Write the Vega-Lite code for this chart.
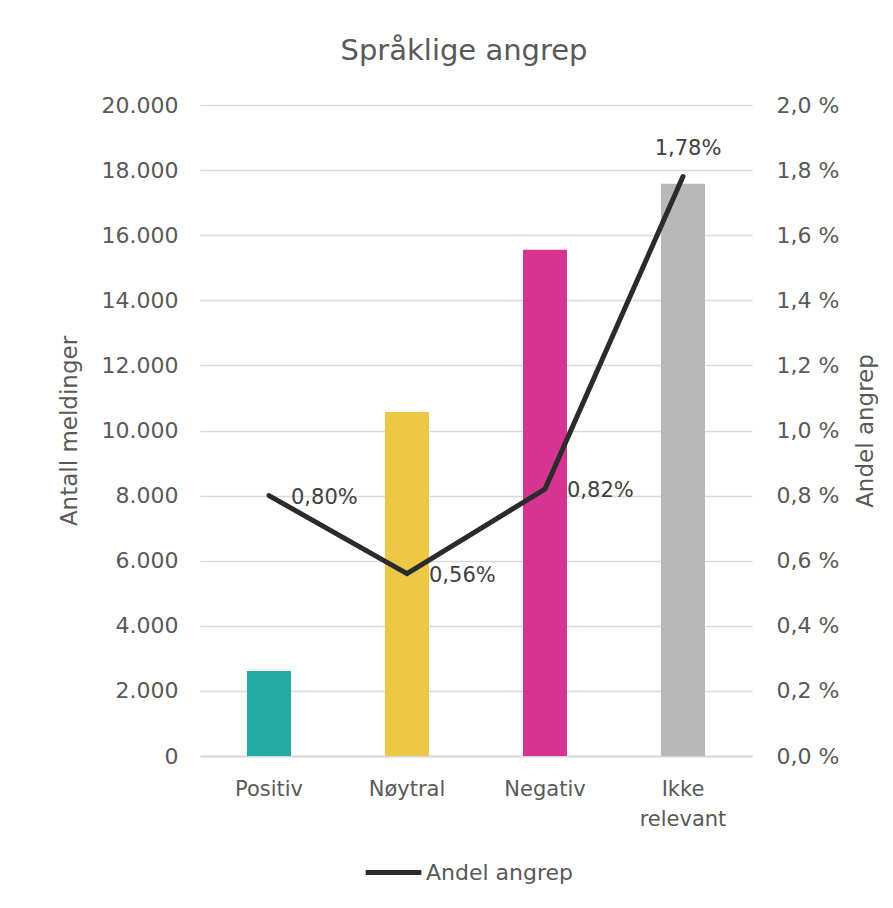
{
  "$schema": "https://vega.github.io/schema/vega-lite/v6.json",
  "autosize": {"type": "none"},
  "width": 552,
  "height": 651,
  "padding": {"left": 200, "top": 105, "right": 141, "bottom": 152},
  "background": "#ffffff",
  "title": {
    "text": "Språklige angrep",
    "fontSize": 29,
    "font": "DejaVu Sans",
    "fontWeight": "normal",
    "color": "#595959",
    "anchor": "middle",
    "dx": -12,
    "offset": 28
  },
  "data": {
    "values": [
      {"kategori": "Positiv", "antall": 2610, "andel": 0.80, "etikett": "0,80%"},
      {"kategori": "Nøytral", "antall": 10570, "andel": 0.56, "etikett": "0,56%"},
      {"kategori": "Negativ", "antall": 15550, "andel": 0.82, "etikett": "0,82%"},
      {"kategori": "Ikke relevant", "antall": 17580, "andel": 1.78, "etikett": "1,78%"}
    ]
  },
  "encoding": {
    "x": {
      "field": "kategori",
      "type": "nominal",
      "sort": null,
      "scale": {"paddingInner": 0.68, "paddingOuter": 0.34},
      "axis": {
        "title": null,
        "labelAngle": 0,
        "labelExpr": "split(datum.label, ' ')",
        "labelFontSize": 21,
        "labelLineHeight": 30,
        "labelPadding": 22,
        "ticks": false,
        "domainColor": "#d9d9d9",
        "domainWidth": 2,
        "grid": false
      }
    }
  },
  "layer": [
    {
      "mark": {"type": "bar", "size": 44},
      "encoding": {
        "y": {
          "field": "antall",
          "type": "quantitative",
          "scale": {"domain": [0, 20000]},
          "axis": {
            "title": "Antall meldinger",
            "titleAngle": 270,
            "titleFontSize": 23,
            "titlePadding": 20,
            "values": [0, 2000, 4000, 6000, 8000, 10000, 12000, 14000, 16000, 18000, 20000],
            "labelExpr": "replace(format(datum.value, ','), /,/g, '.')",
            "labelOverlap": false,
            "labelFontSize": 22,
            "labelPadding": 22,
            "ticks": false,
            "domain": false,
            "grid": true,
            "gridColor": "#d9d9d9",
            "gridWidth": 1.5
          }
        },
        "color": {
          "field": "kategori",
          "type": "nominal",
          "scale": {
            "domain": ["Positiv", "Nøytral", "Negativ", "Ikke relevant"],
            "range": ["#25aba3", "#ecc846", "#d63491", "#b8b8b8"]
          },
          "legend": null
        }
      }
    },
    {
      "layer": [
        {
          "mark": {"type": "line", "strokeWidth": 5, "strokeCap": "round", "strokeJoin": "miter"},
          "encoding": {
            "y": {
              "field": "andel",
              "type": "quantitative",
              "scale": {"domain": [0, 2]},
              "axis": {
                "orient": "right",
                "title": "Andel angrep",
                "titleAngle": 270,
                "titleFontSize": 23,
                "titlePadding": 39,
                "values": [0, 0.2, 0.4, 0.6, 0.8, 1.0, 1.2, 1.4, 1.6, 1.8, 2.0],
                "labelExpr": "replace(format(datum.value, '.1f'), '.', ',') + ' %'",
                "labelOverlap": false,
                "labelFontSize": 22,
                "labelPadding": 24,
                "ticks": false,
                "domain": false,
                "grid": false
              }
            },
            "stroke": {
              "datum": "Andel angrep",
              "type": "nominal",
              "scale": {"range": ["#2b2b2b"]},
              "legend": {
                "title": null,
                "orient": "none",
                "legendX": 163,
                "legendY": 737,
                "symbolType": "stroke",
                "symbolSize": 3100,
                "symbolStrokeWidth": 5,
                "labelFontSize": 22,
                "labelOffset": 2
              }
            }
          }
        },
        {
          "transform": [{"filter": "datum.kategori != 'Ikke relevant'"}],
          "mark": {"type": "text", "align": "left", "baseline": "middle", "dx": 22, "dy": 2, "fontSize": 21, "color": "#404040"},
          "encoding": {
            "y": {"field": "andel", "type": "quantitative"},
            "text": {"field": "etikett"}
          }
        },
        {
          "transform": [{"filter": "datum.kategori == 'Ikke relevant'"}],
          "mark": {"type": "text", "align": "center", "baseline": "middle", "dy": -28, "dx": 5, "fontSize": 21, "color": "#404040"},
          "encoding": {
            "y": {"field": "andel", "type": "quantitative"},
            "text": {"field": "etikett"}
          }
        }
      ]
    }
  ],
  "resolve": {"scale": {"y": "independent", "color": "independent"}},
  "config": {
    "font": "DejaVu Sans",
    "view": {"stroke": null},
    "axis": {"labelColor": "#595959", "titleColor": "#595959", "titleFontWeight": "normal", "labelFont": "DejaVu Sans", "titleFont": "DejaVu Sans"},
    "legend": {"labelColor": "#595959", "labelFont": "DejaVu Sans"},
    "text": {"font": "DejaVu Sans"}
  }
}
